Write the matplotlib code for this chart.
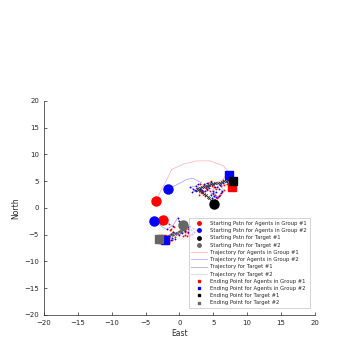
import numpy as np
import matplotlib as mpl
mpl.use('Agg')
import matplotlib.pyplot as plt
from matplotlib.lines import Line2D

# starting positions
start_g1 = np.array([[-3.5, 1.3], [-2.4, -2.2]])
start_g2 = np.array([[-1.7, 3.5], [-3.8, -2.5]])
start_t1 = np.array([[5.1, 0.75]])
start_t2 = np.array([[0.6, -3.2]])

# ending positions
end_g1 = np.array([[7.75, 4.0], [-2.5, -5.8]])
end_g2 = np.array([[7.3, 6.1], [-2.1, -6.0]])
end_t1 = np.array([[7.85, 5.1]])
end_t2 = np.array([[-3.0, -5.85]])

# trajectories; first n points of each are the approach leg
traj_g1a = [(-3.5, 1.3), (-2.9, 2.8), (-1.9, 5.2), (-1.15, 7.2), (0.6, 8.2), (2.5, 8.8),
            (4.5, 8.8), (6.5, 7.9), (7.2, 6.8), (6.4, 5.3), (5.3, 4.7), (4.7, 5.0), (4.2, 4.6),
            (3.6, 4.3), (3.9, 3.9), (3.1, 4.5), (2.6, 3.7), (3.0, 3.4), (3.3, 3.2), (2.9, 2.5),
            (3.4, 2.8), (3.8, 2.3), (3.5, 3.0), (4.1, 3.4), (4.5, 3.2), (3.9, 3.8), (4.4, 4.1),
            (4.8, 4.2), (5.1, 3.9), (5.4, 3.6), (4.9, 2.7), (5.3, 2.4), (5.7, 2.1), (5.2, 1.5),
            (5.6, 1.9), (6.0, 2.5), (6.3, 2.9), (6.6, 3.3), (6.1, 4.1), (6.6, 4.3), (7.0, 4.5),
            (7.4, 4.3), (7.75, 4.0)]
traj_g1b = [(-2.4, -2.2), (-1.6, -2.9), (-0.8, -3.6), (-1.2, -3.9), (-1.4, -4.2), (-0.9, -4.5),
            (-0.5, -4.7), (0.0, -4.3), (0.4, -4.1), (0.8, -4.4), (1.2, -4.6), (0.9, -5.0),
            (0.6, -5.3), (1.1, -5.2), (1.6, -5.1), (1.9, -4.8), (2.1, -4.4), (1.7, -4.1),
            (1.3, -3.9), (0.8, -4.2), (0.2, -4.4), (-0.2, -4.9), (-0.6, -5.4), (-1.0, -5.0),
            (-1.3, -4.8), (-1.6, -5.2), (-1.9, -5.5), (-1.5, -5.7), (-1.1, -6.0), (-1.6, -6.1),
            (-2.0, -6.2), (-2.5, -5.8)]
traj_g2a = [(-1.7, 3.5), (0.0, 4.6), (1.1, 5.35), (2.0, 5.55), (3.3, 4.7), (2.8, 4.4), (2.4, 4.1),
            (1.6, 3.9), (2.0, 3.6), (2.3, 3.3), (1.9, 2.9), (2.5, 3.2), (3.0, 3.6), (3.4, 3.3),
            (3.8, 3.1), (4.1, 3.5), (4.4, 3.7), (4.0, 4.1), (3.6, 4.4), (4.1, 4.6), (4.6, 4.8),
            (4.9, 4.4), (5.2, 4.0), (4.9, 3.2), (4.6, 2.4), (5.0, 2.8), (5.4, 3.0), (5.1, 2.3),
            (4.8, 1.8), (5.4, 2.0), (5.9, 2.3), (6.1, 2.8), (6.3, 3.2), (5.9, 3.6), (5.6, 3.9),
            (6.0, 4.3), (6.5, 4.6), (7.0, 4.8), (7.4, 5.0), (7.1, 5.3), (6.9, 5.6), (7.3, 6.1)]
traj_g2b = [(-3.8, -2.5), (-2.8, -3.3), (-1.9, -4.0), (-1.0, -3.3), (-0.2, -1.8), (-0.1, -2.5),
            (0.1, -3.0), (0.5, -3.4), (0.8, -3.7), (1.2, -3.5), (1.6, -3.4), (2.0, -3.8),
            (2.4, -4.1), (2.1, -4.5), (1.8, -4.8), (1.3, -4.5), (0.9, -4.3), (0.4, -4.7),
            (0.0, -5.0), (-0.5, -4.7), (-0.9, -4.5), (-1.2, -4.9), (-1.5, -5.3), (-1.1, -5.6),
            (-0.7, -5.8), (-1.2, -6.0), (-1.6, -6.3), (-2.1, -6.0)]
traj_t1 = [(5.1, 0.75), (4.8, 1.2), (4.6, 1.5), (4.4, 1.8), (4.2, 2.1), (3.9, 2.4), (3.6, 2.6),
           (3.3, 2.9), (3.0, 3.1), (2.8, 3.4), (2.6, 3.6), (3.0, 3.8), (3.3, 3.9), (3.7, 4.0),
           (4.0, 4.2), (4.4, 4.3), (4.7, 4.4), (5.0, 4.5), (5.3, 4.6), (5.7, 4.6), (6.0, 4.7),
           (6.3, 4.9), (6.6, 5.0), (6.9, 5.1), (7.2, 5.2), (7.5, 5.1), (7.85, 5.1)]
traj_t2 = [(0.6, -3.2), (0.8, -3.5), (0.9, -3.8), (0.6, -4.1), (0.3, -4.3), (0.0, -4.5),
           (-0.4, -4.6), (-0.7, -4.8), (-1.0, -4.9), (-1.3, -5.0), (-1.6, -5.2), (-1.9, -5.3),
           (-2.2, -5.5), (-2.6, -5.7), (-3.0, -5.85)]

fig = plt.figure(figsize=(3.48, 3.37), dpi=100)
ax = fig.add_axes([0.126, 0.0653, 0.779, 0.635])

tc = '#262626'
lw = 0.5
for tr, n in [(traj_g1a, 9), (traj_g1b, 1)]:
    tr = np.array(tr)
    ax.plot(tr[:, 0], tr[:, 1], color='#ff9999', lw=lw, alpha=0.8, zorder=2)
    ax.plot(tr[n:, 0], tr[n:, 1], ls='none', marker='+', ms=2, mew=0.5, color='red', zorder=3)
for tr, n in [(traj_g2a, 5), (traj_g2b, 2)]:
    tr = np.array(tr)
    ax.plot(tr[:, 0], tr[:, 1], color='#8080ff', lw=lw, alpha=0.8, zorder=2)
    ax.plot(tr[n:, 0], tr[n:, 1], ls='none', marker='+', ms=2, mew=0.5, color='blue', zorder=3)
for tr, c in [(traj_t1, '#333333'), (traj_t2, '#666666')]:
    tr = np.array(tr)
    ax.plot(tr[:, 0], tr[:, 1], color='#999999', lw=0.8, zorder=2)
    ax.plot(tr[:, 0], tr[:, 1], ls='none', marker='x', ms=2, mew=0.5, color=c, zorder=3)

ms_s = 6.5
ms_e = 5.5
ax.plot(start_g1[:, 0], start_g1[:, 1], 'o', color='red', ms=ms_s, zorder=5)
ax.plot(start_g2[:, 0], start_g2[:, 1], 'o', color='blue', ms=ms_s, zorder=5)
ax.plot(start_t1[:, 0], start_t1[:, 1], 'o', color='black', ms=ms_s, zorder=5)
ax.plot(start_t2[:, 0], start_t2[:, 1], 'o', color='#666666', ms=ms_s, zorder=5)
ax.plot(end_g1[:, 0], end_g1[:, 1], 's', color='red', ms=ms_e, zorder=5)
ax.plot(end_g2[:, 0], end_g2[:, 1], 's', color='blue', ms=ms_e, zorder=6)
ax.plot(end_t1[:, 0], end_t1[:, 1], 's', color='black', ms=ms_e, zorder=6)
ax.plot(end_t2[:, 0], end_t2[:, 1], 's', color='#666666', ms=ms_e, zorder=6)

handles = [
    Line2D([], [], ls='none', marker='o', ms=2.5, color='red'),
    Line2D([], [], ls='none', marker='o', ms=2.5, color='blue'),
    Line2D([], [], ls='none', marker='o', ms=2.5, color='black'),
    Line2D([], [], ls='none', marker='o', ms=2.5, color='#666666'),
    Line2D([], [], color='#ffb3b3', lw=0.6),
    Line2D([], [], color='#b3b3ff', lw=0.6),
    Line2D([], [], color='#c0c0c0', lw=0.8),
    Line2D([], [], color='#e0e0e0', lw=0.8),
    Line2D([], [], ls='none', marker='s', ms=2, color='red'),
    Line2D([], [], ls='none', marker='s', ms=2, color='blue'),
    Line2D([], [], ls='none', marker='s', ms=2, color='black'),
    Line2D([], [], ls='none', marker='s', ms=2, color='#666666'),
]
labels = ['Starting Pstn for Agents in Group #1', 'Starting Pstn for Agents in Group #2',
          'Starting Pstn for Target #1', 'Starting Pstn for Target #2',
          'Trajectory for Agents in Group #1', 'Trajectory for Agents in Group #2',
          'Trajectory for Target #1', 'Trajectory for Target #2',
          'Ending Point for Agents in Group #1', 'Ending Point for Agents in Group #2',
          'Ending Point for Target #1', 'Ending Point for Target #2']
leg = ax.legend(handles, labels, loc='lower right', bbox_to_anchor=(0.99, 0.02),
                fontsize=3.8, frameon=True, fancybox=False, edgecolor='#bfbfbf',
                handlelength=3.0, labelspacing=0.42, borderpad=0.5, handletextpad=0.6)
leg.get_frame().set_linewidth(0.6)
for t in leg.get_texts():
    t.set_color(tc)

ax.set_xlim(-20, 20)
ax.set_ylim(-20, 20)
ax.set_xticks(np.arange(-20, 21, 5))
ax.set_yticks(np.arange(-20, 21, 5))
ax.spines['top'].set_visible(False)
ax.spines['right'].set_visible(False)
for s in ['left', 'bottom']:
    ax.spines[s].set_color(tc)
    ax.spines[s].set_linewidth(0.5)
ax.tick_params(direction='in', length=2, width=0.5, labelsize=5, colors=tc)
ax.set_xlabel('East', fontsize=5.5, color=tc, labelpad=2)
ax.set_ylabel('North', fontsize=5.5, color=tc, labelpad=3)

plt.savefig('out.png', dpi=100)
